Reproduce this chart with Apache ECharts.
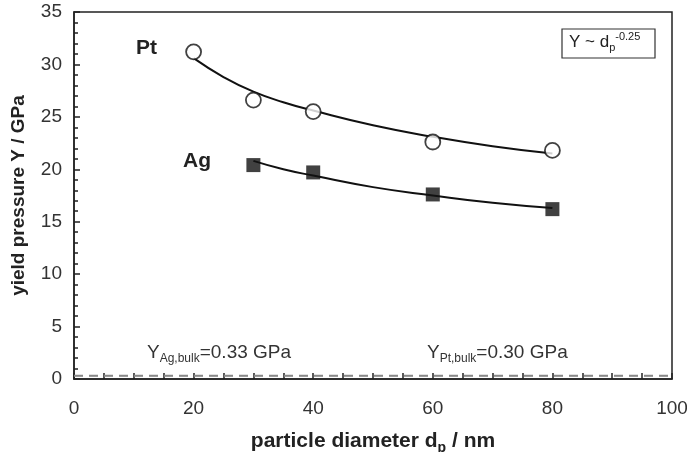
<!DOCTYPE html>
<html><head><meta charset="utf-8">
<script src="https://cdn.jsdelivr.net/npm/echarts@6/dist/echarts.min.js"></script>
<style>html,body{margin:0;padding:0;background:#fff}#c{width:687px;height:452px}</style>
</head><body><div id="c"></div>
<script>
// measured points
const ptDiam = [20, 30, 40, 60, 80];
const ptYield = [31.2, 26.6, 25.5, 22.6, 21.8];
const agDiam = [30, 40, 60, 80];
const agYield = [20.4, 19.7, 17.6, 16.2];
// fitted curves
const ptFitX = [20, 25, 30, 35, 40, 50, 60, 70, 80];
const ptFitY = [30.6, 28.8, 27.4, 26.4, 25.6, 24.2, 23.1, 22.2, 21.5];
const agFitX = [30, 35, 40, 50, 60, 70, 80];
const agFitY = [20.8, 20.0, 19.4, 18.3, 17.5, 16.8, 16.3];
// bulk values
const agBulk = 0.33;
const ptBulk = 0.30;
const xTicks = [0, 20, 40, 60, 80, 100];
const yTicks = [0, 5, 10, 15, 20, 25, 30, 35];

const zip = (a, b) => a.map((v, i) => [v, b[i]]);
const font = 'Liberation Sans, Arial, sans-serif';
const chart = echarts.init(document.getElementById('c'));
chart.setOption({
  animation: false,
  backgroundColor: '#fff',
  grid: { left: 74, right: 15, top: 12, bottom: 73, containLabel: false, outerBoundsMode: 'none',
          show: true, borderColor: '#222', borderWidth: 1.5, backgroundColor: 'transparent' },
  xAxis: {
    type: 'value', min: 0, max: 100, interval: 20,
    name: 'particle diameter d{sub|p} / nm', nameLocation: 'middle', nameGap: 49,
    nameTextStyle: { fontFamily: font, fontSize: 21, fontWeight: 'bold', color: '#222',
      rich: { sub: { fontFamily: font, fontSize: 14, fontWeight: 'bold', color: '#222', verticalAlign: 'bottom', padding: [13, 0, 0, 0] } } },
    axisLine: { lineStyle: { color: '#222', width: 1.5 } },
    axisTick: { inside: true, length: 6, lineStyle: { color: '#222', width: 1.5 } },
    minorTick: { show: true, splitNumber: 4, length: 6, lineStyle: { color: '#222', width: 1.5 } },
    axisLabel: { fontFamily: font, fontSize: 19, color: '#333', margin: 20, formatter: v => xTicks.includes(v) ? String(v) : '' },
    splitLine: { show: false }
  },
  yAxis: {
    type: 'value', min: 0, max: 35, interval: 5,
    name: 'yield pressure Y / GPa', nameLocation: 'middle', nameGap: 46,
    nameTextStyle: { fontFamily: font, fontSize: 19, fontWeight: 'bold', color: '#222' },
    axisLine: { lineStyle: { color: '#222', width: 1.5 } },
    axisTick: { inside: true, length: 6, lineStyle: { color: '#222', width: 1.5 } },
    minorTick: { show: true, splitNumber: 5, length: 4, lineStyle: { color: '#222', width: 1.5 } },
    axisLabel: { fontFamily: font, fontSize: 19, color: '#333', margin: 12, formatter: v => yTicks.includes(v) ? String(v) : '' },
    splitLine: { show: false }
  },
  series: [
    { type: 'line', data: zip(ptFitX, ptFitY), smooth: true, symbol: 'none', lineStyle: { color: '#111', width: 2 }, z: 2 },
    { type: 'line', data: zip(agFitX, agFitY), smooth: true, symbol: 'none', lineStyle: { color: '#111', width: 2 }, z: 2 },
    { type: 'scatter', data: zip(ptDiam, ptYield), symbol: 'circle', symbolSize: 15,
      itemStyle: { color: '#fff', borderColor: '#111', borderWidth: 1.8 }, z: 3 },
    { type: 'scatter', data: zip(agDiam, agYield), symbol: 'rect', symbolSize: 14,
      itemStyle: { color: '#111' }, z: 3 },
    { type: 'line', data: [[0, agBulk], [100, agBulk]], symbol: 'none', lineStyle: { color: '#888', width: 1.6, type: [9, 6] } },
    { type: 'line', data: [[0, ptBulk], [100, ptBulk]], symbol: 'none', lineStyle: { color: '#888', width: 1.6, type: [9, 6] } }
  ],
  graphic: [
    { type: 'text', left: 136, top: 38, style: { text: 'Pt', font: 'bold 21px ' + font, fill: '#222' } },
    { type: 'text', left: 183, top: 151, style: { text: 'Ag', font: 'bold 21px ' + font, fill: '#222' } },
    { type: 'rect', shape: { x: 562, y: 29, width: 93, height: 29 }, style: { fill: '#fff', stroke: '#333', lineWidth: 1.2 } },
    { type: 'text', left: 569, top: 31, style: {
        text: 'Y ~ d{sub|p}{sup|-0.25}', font: '17px ' + font, fill: '#222',
        rich: { sub: { fontSize: 11, fontFamily: font, fill: '#222', verticalAlign: 'bottom', padding: [11, 0, 0, 0] },
                sup: { fontSize: 11, fontFamily: font, fill: '#222', verticalAlign: 'top', padding: [0, 0, 8, 0] } } } },
    { type: 'text', left: 147, top: 343, style: {
        text: 'Y{sub|Ag,bulk}=0.33 GPa', font: '19px ' + font, fill: '#333',
        rich: { sub: { fontSize: 12, fontFamily: font, fill: '#333', verticalAlign: 'bottom', padding: [13, 0, 0, 0] } } } },
    { type: 'text', left: 427, top: 343, style: {
        text: 'Y{sub|Pt,bulk}=0.30 GPa', font: '19px ' + font, fill: '#333',
        rich: { sub: { fontSize: 12, fontFamily: font, fill: '#333', verticalAlign: 'bottom', padding: [13, 0, 0, 0] } } } }
  ]
});
</script></body></html>
